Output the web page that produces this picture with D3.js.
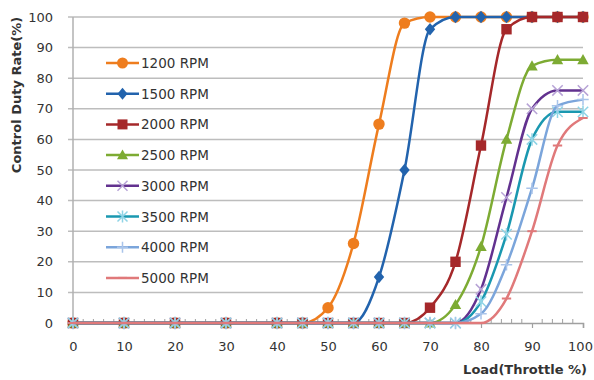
<!DOCTYPE html>
<html>
<head>
<meta charset="utf-8">
<script src="https://cdn.jsdelivr.net/npm/d3@7"></script>
<style>
  body { margin: 0; background: #fff; }
  text { font-family: "DejaVu Sans", sans-serif; fill: #333; }
</style>
</head>
<body>
<div id="chart"></div>
<script>
// load values (throttle %)
const loads = [0, 10, 20, 30, 40, 45, 50, 55, 60, 65, 70, 75, 80, 85, 90, 95, 100];
const seriesNames = ["1200 RPM", "1500 RPM", "2000 RPM", "2500 RPM", "3000 RPM", "3500 RPM", "4000 RPM", "5000 RPM"];
const rpm1200 = [0, 0, 0, 0, 0, 0, 5, 26, 65, 98, 100, 100, 100, 100, 100, 100, 100];
const rpm1500 = [0, 0, 0, 0, 0, 0, 0, 0, 15, 50, 96, 100, 100, 100, 100, 100, 100];
const rpm2000 = [0, 0, 0, 0, 0, 0, 0, 0, 0, 0, 5, 20, 58, 96, 100, 100, 100];
const rpm2500 = [0, 0, 0, 0, 0, 0, 0, 0, 0, 0, 0, 6, 25, 60, 84, 86, 86];
const rpm3000 = [0, 0, 0, 0, 0, 0, 0, 0, 0, 0, 0, 0, 11, 41, 70, 76, 76];
const rpm3500 = [0, 0, 0, 0, 0, 0, 0, 0, 0, 0, 0, 0, 7, 29, 60, 69, 69];
const rpm4000 = [0, 0, 0, 0, 0, 0, 0, 0, 0, 0, 0, 0, 3, 19, 44, 71, 73];
const rpm5000 = [0, 0, 0, 0, 0, 0, 0, 0, 0, 0, 0, 0, 0, 8, 30, 58, 67];
const yTicks = [0, 10, 20, 30, 40, 50, 60, 70, 80, 90, 100];
const xTicks = [0, 10, 20, 30, 40, 50, 60, 70, 80, 90, 100];

const allValues = [rpm1200, rpm1500, rpm2000, rpm2500, rpm3000, rpm3500, rpm4000, rpm5000];
const lineColors = ["#ee7d1e", "#2263ad", "#a5282a", "#7dab33", "#62318f", "#1a98b0", "#7ba5db", "#e0797a"];
const markerColors = ["#ee7d1e", "#2263ad", "#a5282a", "#7dab33", "#b7a3d6", "#8fd4e6", "#a9c4ea", "#e0797a"];
const markerTypes = ["circle", "diamond", "square", "triangle", "x", "asterisk", "plus", "dash"];

const width = 594, height = 380;
const margin = { top: 17, right: 11, bottom: 57, left: 73 };
const w = width - margin.left - margin.right;
const h = height - margin.top - margin.bottom;

const svg = d3.select("#chart").append("svg")
  .attr("width", width)
  .attr("height", height);

const g = svg.append("g")
  .attr("transform", `translate(${margin.left},${margin.top})`);

const x = d3.scaleLinear().domain([0, 100]).range([0, w]);
const y = d3.scaleLinear().domain([0, 100]).range([h, 0]);

// gridlines
g.append("g")
  .selectAll("line")
  .data(yTicks.filter(d => d > 0))
  .join("line")
  .attr("x1", -5).attr("x2", w)
  .attr("y1", d => y(d)).attr("y2", d => y(d))
  .attr("stroke", "#bdbdbd").attr("stroke-width", 1.5);

// y axis
const yAxis = g.append("g")
  .call(d3.axisLeft(y).tickValues(yTicks).tickSize(0).tickPadding(20));
yAxis.select(".domain").remove();
yAxis.selectAll("text").style("font-size", "13px").attr("fill", "#333");
g.append("line")
  .attr("x1", 0).attr("x2", 0).attr("y1", 0).attr("y2", h)
  .attr("stroke", "#b0b0b0").attr("stroke-width", 1.5);

// x axis with minor ticks
const xAxis = g.append("g")
  .attr("transform", `translate(0,${h})`)
  .call(d3.axisBottom(x).tickValues(xTicks).tickSize(5).tickPadding(14));
xAxis.select(".domain").attr("stroke", "#a0a0a0").attr("stroke-width", 1.5);
xAxis.selectAll(".tick line").attr("stroke", "#a0a0a0").attr("stroke-width", 1.2);
xAxis.selectAll("text").style("font-size", "13px").attr("fill", "#333")
  .attr("dx", d => d === 100 ? -3 : 0);
g.append("g")
  .selectAll("line")
  .data(d3.range(0, 101, 2).filter(d => d % 10 !== 0))
  .join("line")
  .attr("x1", d => x(d)).attr("x2", d => x(d))
  .attr("y1", h - 4).attr("y2", h)
  .attr("stroke", "#a0a0a0").attr("stroke-width", 1);

// markers
function drawMarker(sel, type, color, s) {
  if (type === "circle") {
    sel.append("circle").attr("r", s * 1.1).attr("fill", color);
  } else if (type === "diamond") {
    sel.append("path").attr("d", `M0,${-s * 1.2}L${s},0L0,${s * 1.2}L${-s},0Z`).attr("fill", color);
  } else if (type === "square") {
    sel.append("rect").attr("x", -s).attr("y", -s).attr("width", 2 * s).attr("height", 2 * s).attr("fill", color);
  } else if (type === "triangle") {
    sel.append("path").attr("d", `M0,${-s * 1.1}L${s * 1.1},${s * 0.85}L${-s * 1.1},${s * 0.85}Z`).attr("fill", color);
  } else if (type === "x") {
    sel.append("path").attr("d", `M${-s},${-s}L${s},${s}M${-s},${s}L${s},${-s}`)
      .attr("stroke", color).attr("stroke-width", 1.5).attr("fill", "none");
  } else if (type === "asterisk") {
    sel.append("path").attr("d", `M${-s},${-s}L${s},${s}M${-s},${s}L${s},${-s}M0,${-s * 1.2}L0,${s * 1.2}`)
      .attr("stroke", color).attr("stroke-width", 1.5).attr("fill", "none");
  } else if (type === "plus") {
    sel.append("path").attr("d", `M${-s * 1.1},0L${s * 1.1},0M0,${-s * 1.1}L0,${s * 1.1}`)
      .attr("stroke", color).attr("stroke-width", 1.5).attr("fill", "none");
  } else if (type === "dash") {
    sel.append("path").attr("d", `M${-s * 0.9},0L${s * 0.9},0`)
      .attr("stroke", color).attr("stroke-width", 2).attr("fill", "none");
  }
}

const line = d3.line()
  .x(d => x(d[0]))
  .y(d => y(d[1]))
  .curve(d3.curveMonotoneX);

allValues.forEach((vals, i) => {
  const pts = loads.map((l, j) => [l, vals[j]]);
  const sg = g.append("g");
  sg.append("path")
    .attr("d", line(pts))
    .attr("fill", "none")
    .attr("stroke", lineColors[i])
    .attr("stroke-width", 2.5);
  sg.selectAll("g.mk")
    .data(pts)
    .join("g")
    .attr("class", "mk")
    .attr("transform", d => `translate(${x(d[0])},${y(d[1])})`)
    .each(function () { drawMarker(d3.select(this), markerTypes[i], markerColors[i], 5.2); });
});

// legend
const legend = svg.append("g").attr("transform", "translate(106,63)");
seriesNames.forEach((name, i) => {
  const lg = legend.append("g").attr("transform", `translate(0,${i * 30.7})`);
  lg.append("line").attr("x1", 0).attr("x2", 33).attr("y1", 0).attr("y2", 0)
    .attr("stroke", lineColors[i]).attr("stroke-width", 2.5);
  const mg = lg.append("g").attr("transform", "translate(16.5,0)");
  drawMarker(mg, markerTypes[i], markerColors[i], 5);
  lg.append("text").attr("x", 35).attr("y", 5)
    .style("font-size", "13.5px")
    .text(name);
});

// axis titles
svg.append("text")
  .attr("transform", "translate(21,95) rotate(-90)")
  .attr("text-anchor", "middle")
  .style("font-size", "13px").style("font-weight", "bold").attr("fill", "#222")
  .text("Control Duty Rate(%)");

svg.append("text")
  .attr("x", 587).attr("y", 374)
  .attr("text-anchor", "end")
  .style("font-size", "13px").style("font-weight", "bold").attr("fill", "#222")
  .text("Load(Throttle %)");
</script>
</body>
</html>
